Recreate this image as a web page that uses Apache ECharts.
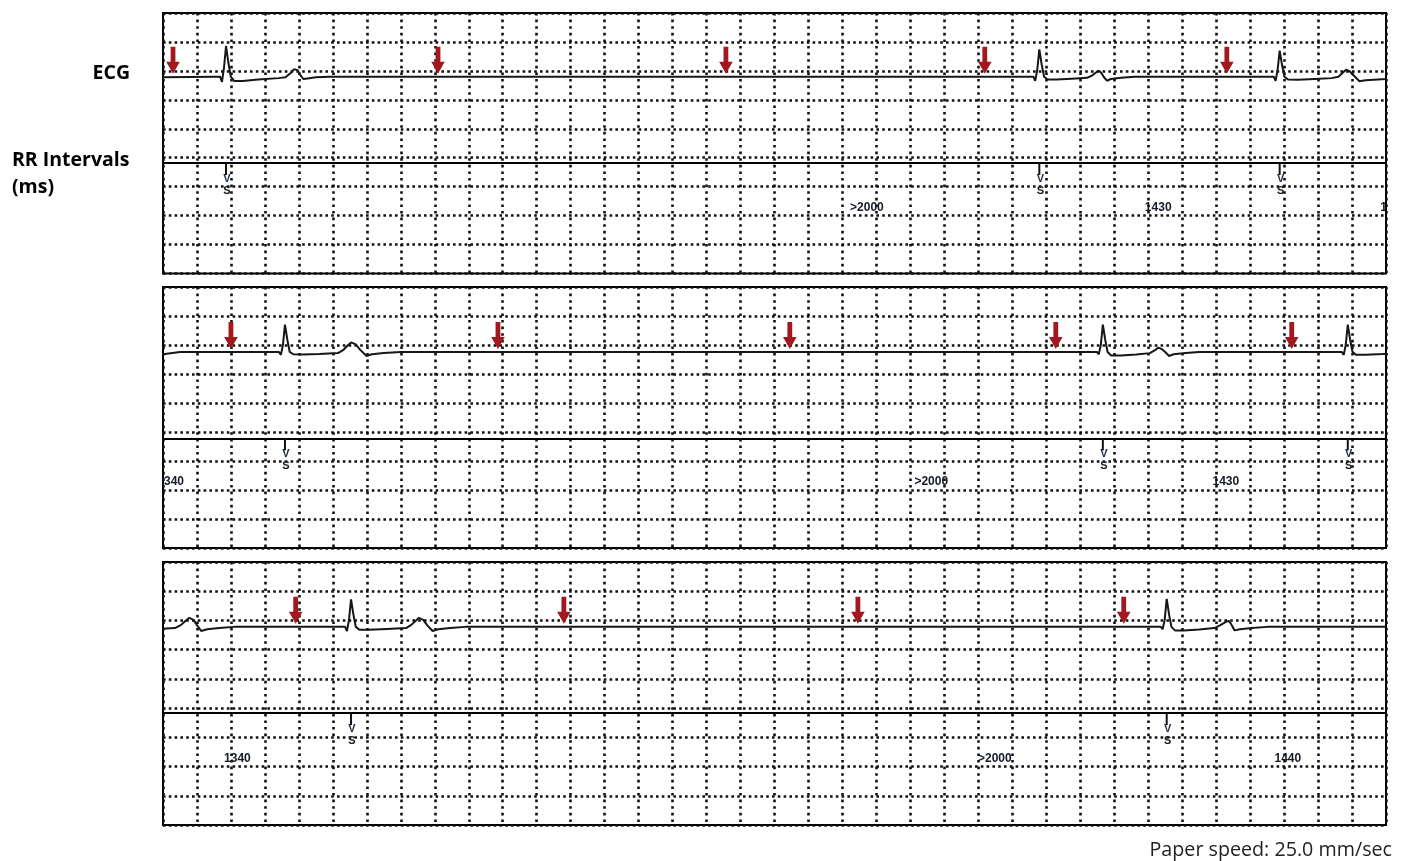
<!DOCTYPE html>
<html>
<head>
<meta charset="utf-8">
<script src="https://cdn.jsdelivr.net/npm/echarts@6/dist/echarts.min.js"></script>
<style>
html,body{margin:0;padding:0;background:#fff;}
#c{width:1407px;height:861px;}
</style>
</head>
<body>
<div id="c"></div>
<script>
// ---------------- DATA (times in ms, ECG amplitude in mV) ----------------
const stripStarts = [0, 7200, 14400];          // each strip shows 7.2 s
const stripLength = 7200;

// continuous ECG trace [time ms, mV]
const ecgPoints = [
  [0,-0.01],
  // beat 1
  [301,0],[336,0],[347,-0.09],[359,0.15],[371,0.53],[385,0.24],[399,0],[420,-0.075],[470,-0.075],[560,-0.05],[680,-0.025],[721,-0.01],[750,0.06],[772,0.13],[781,0.145],[792,0.11],[808,0.03],[826,-0.04],[850,-0.03],[900,-0.01],[980,0],
  // beat 2
  [5089,0],[5124,0],[5135,-0.07],[5147,0.12],[5159,0.47],[5173,0.21],[5187,0],[5208,-0.05],[5260,-0.05],[5350,-0.035],[5440,-0.02],[5470,0.02],[5500,0.09],[5512,0.10],[5525,0.06],[5540,-0.01],[5557,-0.07],[5580,-0.04],[5640,-0.02],[5720,0],
  // beat 3
  [6504,0],[6539,0],[6550,-0.07],[6562,0.12],[6574,0.45],[6588,0.2],[6602,0],[6623,-0.05],[6680,-0.055],[6780,-0.04],[6880,-0.025],[6920,0.0],[6950,0.08],[6965,0.12],[6974,0.125],[6988,0.09],[7010,0.02],[7044,-0.08],[7080,-0.06],[7200,-0.04],[7300,0],
  // beat 4
  [7848,0],[7883,0],[7894,-0.05],[7906,0.12],[7918,0.47],[7932,0.21],[7946,0],[7967,-0.04],[8020,-0.045],[8120,-0.035],[8230,-0.02],[8260,0.03],[8290,0.12],[8308,0.165],[8318,0.17],[8335,0.13],[8360,0.04],[8398,-0.07],[8430,-0.04],[8500,-0.02],[8600,0],
  // beat 5
  [12663,0],[12698,0],[12709,-0.04],[12721,0.12],[12733,0.47],[12747,0.21],[12761,0],[12782,-0.06],[12840,-0.06],[12930,-0.045],[13010,-0.02],[13040,0.03],[13060,0.075],[13068,0.08],[13080,0.05],[13100,0.0],[13123,-0.07],[13150,-0.04],[13220,-0.02],[13300,0],
  // beat 6
  [14105,0],[14140,0],[14151,-0.05],[14163,0.12],[14175,0.47],[14189,0.21],[14203,0],[14224,-0.05],[14280,-0.05],[14380,-0.035],[14470,-0.02],[14505,0.03],[14535,0.11],[14555,0.155],[14565,0.16],[14580,0.12],[14600,0.03],[14625,-0.07],[14660,-0.04],[14730,-0.02],[14820,0],
  // beat 7
  [15437,0],[15472,0],[15483,-0.07],[15495,0.12],[15507,0.47],[15521,0.21],[15535,0],[15556,-0.05],[15610,-0.05],[15720,-0.035],[15830,-0.02],[15860,0.03],[15890,0.11],[15907,0.155],[15917,0.16],[15932,0.12],[15955,0.03],[15987,-0.07],[16020,-0.04],[16090,-0.02],[16180,0],
  // beat 8
  [20239,0],[20274,0],[20285,-0.04],[20297,0.12],[20309,0.48],[20323,0.21],[20337,0],[20358,-0.06],[20410,-0.06],[20500,-0.045],[20590,-0.02],[20625,0.03],[20660,0.09],[20674,0.10],[20686,0.06],[20697,0.0],[20709,-0.06],[20740,-0.04],[20810,-0.02],[20900,0],
  [21600,0]
];

// P-wave arrows (ms)
const arrowTimes = [59, 1619, 3314, 4838, 6263, 7600, 9172, 10890, 12456, 13845, 15181, 16760, 18491, 20056];

// detected (sensed) beats, "VS" marks (ms)
const beatTimes = [371, 5159, 6574, 7918, 12733, 14175, 15507, 20309];

// RR interval annotations
const rrLabels = ['>2000', '1430', '1340', '>2000', '1430', '1340', '>2000', '1440'];
const rrLabelTimes = [4144, 5859, 7245, 11723, 13457, 14838, 19297, 21022];

const rowLabels = ['ECG', 'RR Intervals', '(ms)'];
const footnote = 'Paper speed: 25.0 mm/sec';

// ---------------- LAYOUT ----------------
const strips = [
  {top: 13,  height: 260.5, divider: 3.82, ecgMax: 1.10},
  {top: 287, height: 261,   divider: 3.78, ecgMax: 1.12},
  {top: 562, height: 263,   divider: 3.83, ecgMax: 1.11}
];
const rrRow = 2.27;
const dotColor = '#111';

const grids = [], xAxes = [], yAxes = [], series = [];
strips.forEach((s, k) => {
  grids.push({left: 163, top: s.top, width: 1223, height: s.height, show: true,
    borderColor: '#000', borderWidth: 2, backgroundColor: 'transparent'});
  xAxes.push({gridIndex: k, type: 'value', min: stripStarts[k], max: stripStarts[k] + stripLength,
    interval: 200, axisLine: {show: false}, axisTick: {show: false}, axisLabel: {show: false},
    splitLine: {show: true, lineStyle: {color: dotColor, width: 2.6, type: [2.6, 4.0]}}});
  yAxes.push({gridIndex: k, type: 'value', min: 0, max: 9, interval: 1,
    axisLine: {show: false}, axisTick: {show: false}, axisLabel: {show: false},
    splitLine: {show: true, lineStyle: {color: dotColor, width: 2.6, type: [2.6, 3.2]}}});
  yAxes.push({gridIndex: k, type: 'value', min: +(s.ecgMax - 4.5).toFixed(2), max: s.ecgMax, show: false});

  // ECG trace
  series.push({type: 'line', xAxisIndex: k, yAxisIndex: 2 * k + 1, data: ecgPoints,
    symbol: 'none', clip: true, lineStyle: {color: '#161616', width: 2}, z: 5, silent: true});
  // divider between ECG and RR channel
  series.push({type: 'line', xAxisIndex: k, yAxisIndex: 2 * k, data: [], silent: true,
    markLine: {symbol: 'none', silent: true, label: {show: false}, animation: false,
      lineStyle: {type: 'solid', color: '#000', width: 2}, data: [{yAxis: s.divider}]}});
  // VS markers
  series.push({type: 'custom', xAxisIndex: k, yAxisIndex: 2 * k, clip: true, silent: true, z: 6,
    data: beatTimes.map(t => [t, s.divider]),
    renderItem: (params, api) => {
      const p = api.coord([api.value(0), api.value(1)]);
      const x = p[0], y = p[1];
      return {type: 'group', children: [
        {type: 'line', shape: {x1: x, y1: y, x2: x, y2: y + 12}, style: {stroke: '#111', lineWidth: 2}},
        {type: 'text', x: x + 1, y: y + 16, style: {text: 'V', font: 'bold 11px "Liberation Sans"', fill: '#1c2a48', align: 'center', verticalAlign: 'middle'}},
        {type: 'text', x: x + 1, y: y + 28, style: {text: 'S', font: 'bold 11px "Liberation Sans"', fill: '#1a1a1a', align: 'center', verticalAlign: 'middle'}}
      ]};
    }});
  // RR interval values
  series.push({type: 'custom', xAxisIndex: k, yAxisIndex: 2 * k, clip: true, silent: true, z: 6,
    data: rrLabelTimes.map(t => [t, rrRow]),
    renderItem: (params, api) => {
      const p = api.coord([api.value(0), api.value(1)]);
      return {type: 'text', x: p[0], y: p[1], style: {text: rrLabels[params.dataIndex],
        font: 'bold 12px "Liberation Sans"', fill: '#151a28', align: 'center', verticalAlign: 'middle'}};
    }});
  // P-wave arrows
  series.push({type: 'custom', xAxisIndex: k, yAxisIndex: 2 * k + 1, clip: true, silent: true, z: 7,
    data: arrowTimes.map(t => [t, 0]),
    renderItem: (params, api) => {
      const p = api.coord([api.value(0), api.value(1)]);
      const x = p[0], y = p[1] - 3;
      return {type: 'polygon', shape: {points: [[x - 2.4, y - 27], [x + 2.4, y - 27], [x + 2.4, y - 12],
        [x + 6.8, y - 12], [x, y], [x - 6.8, y - 12], [x - 2.4, y - 12]]}, style: {fill: '#a3181e'}};
    }});
});

const chart = echarts.init(document.getElementById('c'), null, {renderer: 'canvas'});
chart.setOption({
  animation: false,
  backgroundColor: '#fff',
  grid: grids, xAxis: xAxes, yAxis: yAxes, series: series,
  graphic: [
    {type: 'text', x: 130, y: 73, style: {text: rowLabels[0], font: 'bold 19.5px "Open Sans"', fill: '#000', align: 'right', verticalAlign: 'middle'}},
    {type: 'text', x: 12, y: 160, style: {text: rowLabels[1], font: 'bold 19.5px "Open Sans"', fill: '#000', align: 'left', verticalAlign: 'middle'}},
    {type: 'text', x: 12, y: 187, style: {text: rowLabels[2], font: 'bold 19.5px "Open Sans"', fill: '#000', align: 'left', verticalAlign: 'middle'}},
    {type: 'text', x: 1392, y: 850, style: {text: footnote, font: '19.7px "Open Sans"', fill: '#222', align: 'right', verticalAlign: 'middle'}}
  ]
});
</script>
</body>
</html>
